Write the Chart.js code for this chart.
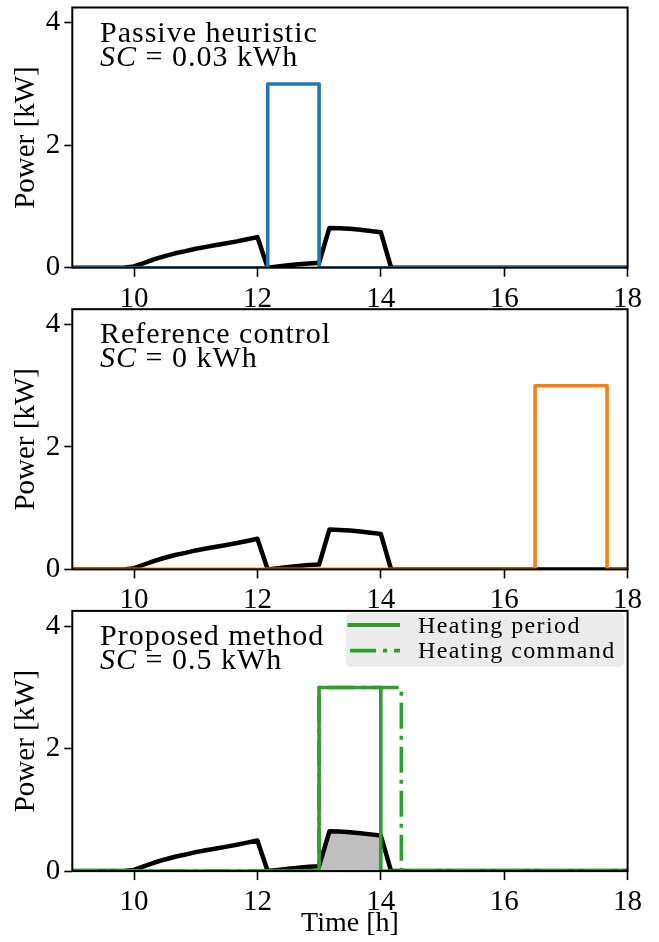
<!DOCTYPE html>
<html><head><meta charset="utf-8">
<script src="https://cdn.jsdelivr.net/npm/chart.js@4.4.1/dist/chart.umd.min.js"></script>
<style>
html,body{margin:0;padding:0;background:#fff;}
#wrap{position:relative;width:659px;height:942px;overflow:hidden;background:#fff;}
canvas{position:absolute;left:0;top:0;}
.ann{position:absolute;font-family:'Liberation Serif',serif;color:#000;white-space:nowrap;font-size:30px;line-height:30px;letter-spacing:1px;}
.ann i{font-style:italic;}
#legend{position:absolute;left:346px;top:613px;width:278px;height:54px;background:#ebebeb;border-radius:5px;}
#legend svg{position:absolute;left:0;top:0;}
.lt{position:absolute;font-family:'Liberation Serif',serif;font-size:24px;line-height:24px;letter-spacing:1.4px;color:#000;white-space:nowrap;}
</style></head>
<body><div id="wrap">
<canvas id="c1" width="659" height="942"></canvas>
<canvas id="c2" width="659" height="942"></canvas>
<canvas id="c3" width="659" height="942"></canvas>
<div class="ann" style="left:100px;top:16.6px">Passive heuristic</div>
<div class="ann" style="left:100px;top:40.6px"><i>SC</i> = 0.03 kWh</div>
<div class="ann" style="left:100px;top:318.3px">Reference control</div>
<div class="ann" style="left:100px;top:342.3px"><i>SC</i> = 0 kWh</div>
<div class="ann" style="left:100px;top:620px">Proposed method</div>
<div class="ann" style="left:100px;top:644px"><i>SC</i> = 0.5 kWh</div>
<div id="legend">
<svg width="70" height="54"><line x1="1.5" y1="12" x2="54" y2="12" stroke="#2ca02c" stroke-width="3.8"/><line x1="4" y1="37.7" x2="54" y2="37.7" stroke="#2ca02c" stroke-width="3.8" stroke-dasharray="26 7 4 7"/></svg>
<div class="lt" style="left:72px;top:0px">Heating period</div>
<div class="lt" style="left:72px;top:25px">Heating command</div>
</div>
</div>
<script>
// ---- data ----
const timeH = [9, 9.833, 10, 10.167, 10.333, 10.5, 10.667, 10.833, 11, 11.167, 11.333, 11.5, 11.667, 11.833, 12,
  12.167, 12.333, 12.5, 12.667, 12.833, 13, 13.167, 13.333, 13.5, 13.667, 13.833, 14, 14.167, 18];
const pvKW = [0, 0, 0.02, 0.08, 0.14, 0.19, 0.235, 0.27, 0.31, 0.34, 0.37, 0.40, 0.43, 0.465, 0.50,
  0, 0.02, 0.04, 0.055, 0.07, 0.08, 0.65, 0.645, 0.635, 0.62, 0.60, 0.58, 0, 0];
const passiveX = [9, 12.167, 13, 18];
const passiveY = [0, 3, 0, 0];
const refX = [9, 16.5, 17.667, 18];
const refY = [0, 3, 0, 0];
const propX = [9, 13, 14, 18];
const propY = [0, 3, 0, 0];
const cmdX = [9, 13, 14.333, 18];
const cmdY = [0, 3, 0, 0];
const xTicks = [10, 12, 14, 16, 18];
const yTicks = [0, 2, 4];

const FAM = "'Liberation Serif', serif";
const pts = (xs, ys) => xs.map((x, i) => ({x, y: ys[i]}));

const framePlugin = {
  id: 'frame',
  afterDatasetsDraw(chart) {
    const {ctx, chartArea: a} = chart;
    ctx.save();
    ctx.strokeStyle = '#000';
    ctx.lineWidth = 2;
    ctx.strokeRect(a.left, a.top, a.right - a.left, a.bottom - a.top);
    ctx.restore();
  }
};

function lineDs(data, color, width, extra) {
  return Object.assign({data, borderColor: color, borderWidth: width, pointRadius: 0, fill: false,
    tension: 0, clip: 0, borderJoinStyle: 'round', borderCapStyle: 'butt'}, extra || {});
}

function makeChart(id, top, bottom, datasets, xTitle) {
  return new Chart(document.getElementById(id), {
    type: 'line',
    data: {datasets},
    options: {
      responsive: false, animation: false, devicePixelRatio: 1,
      layout: {padding: {top: top, left: 0, right: 31.4, bottom: 0}},
      plugins: {legend: {display: false}, tooltip: {enabled: false}},
      scales: {
        x: {
          type: 'linear', min: 9, max: 18,
          afterBuildTicks(s) { s.ticks = xTicks.map(v => ({value: v})); },
          afterFit(s) { s.height = 942 - bottom; s.paddingLeft = 0; s.paddingRight = 0; },
          ticks: {font: {family: FAM, size: 29}, color: '#000', padding: 5, maxRotation: 0, autoSkip: false},
          grid: {drawOnChartArea: false, drawTicks: true, tickLength: 9, tickWidth: 1.6, tickColor: '#000'},
          border: {display: false},
          title: {display: xTitle, text: 'Time [h]', color: '#000', font: {family: FAM, size: 28}, padding: {top: 0, bottom: 2}}
        },
        y: {
          type: 'linear', min: 0, max: 4.25,
          afterBuildTicks(s) { s.ticks = yTicks.map(v => ({value: v})); },
          afterFit(s) { s.width = 72.3; s.paddingTop = 0; s.paddingBottom = 0; },
          ticks: {font: {family: FAM, size: 29}, color: '#000', padding: 4},
          grid: {drawOnChartArea: false, drawTicks: true, tickLength: 8, tickWidth: 1.6, tickColor: '#000'},
          border: {display: false},
          title: {display: true, text: 'Power [kW]', color: '#000', font: {family: FAM, size: 29}, padding: {top: 9, bottom: 0}}
        }
      }
    },
    plugins: [framePlugin]
  });
}

const pv = pts(timeH, pvKW);

makeChart('c1', 7.5, 267.7, [
  lineDs(pts(passiveX, passiveY), '#1f77b4', 3.6, {stepped: 'before'}),
  lineDs(pv, '#000', 4.5)
], false);

makeChart('c2', 309.2, 569.4, [
  lineDs(pts(refX, refY), '#ff7f0e', 3.6, {stepped: 'before'}),
  lineDs(pv, '#000', 4.5)
], false);

const scStart = propX[1], scEnd = propX[2];
const scPts = pv.filter(p => p.x >= scStart && p.x <= scEnd);
makeChart('c3', 610.9, 871.1, [
  lineDs(pts(cmdX, cmdY), '#2ca02c', 3.6, {stepped: 'before', borderDash: [26, 7, 4, 7]}),
  lineDs(pts(propX, propY), '#2ca02c', 3.6, {stepped: 'before'}),
  lineDs(pv, '#000', 4.5),
  {data: scPts, borderWidth: 0, pointRadius: 0, fill: 'origin', backgroundColor: '#bfbfbf', tension: 0, clip: 0}
], true);
</script>
</body></html>
